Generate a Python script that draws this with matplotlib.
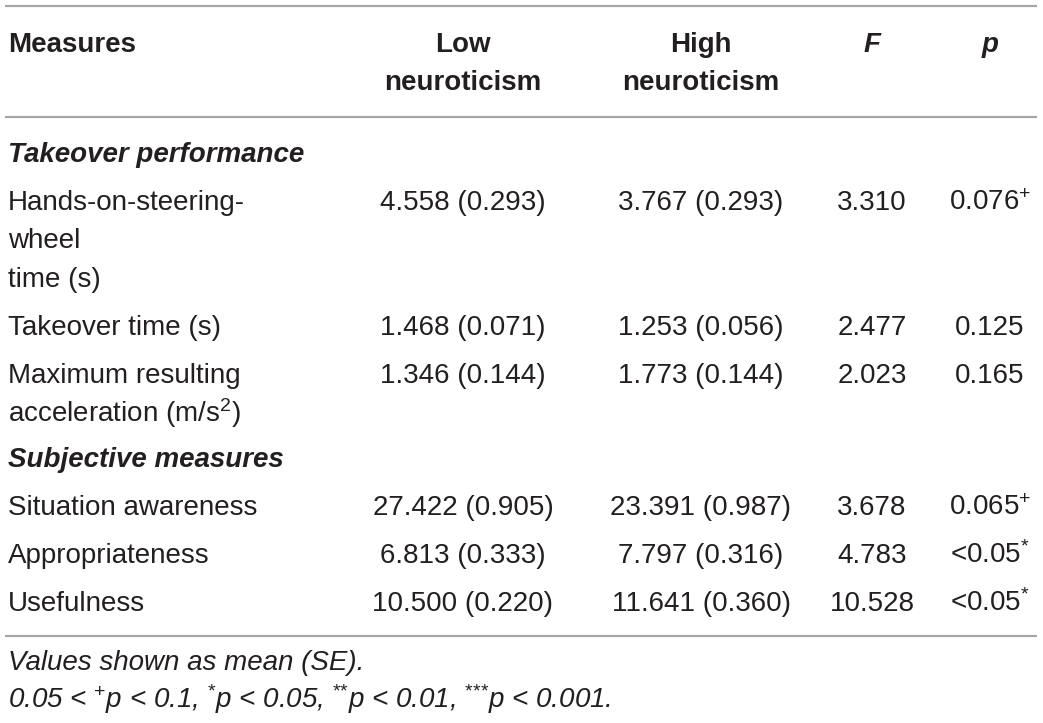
import matplotlib
matplotlib.use("Agg")
import matplotlib.pyplot as plt

plt.rcParams['font.family'] = ['Liberation Sans', 'DejaVu Sans']
plt.rcParams['mathtext.fontset'] = 'custom'
plt.rcParams['mathtext.rm'] = 'Liberation Sans'
plt.rcParams['mathtext.it'] = 'Liberation Sans:italic'
plt.rcParams['mathtext.bf'] = 'Liberation Sans:bold'

# table data
headers = ["Measures", "Low\nneuroticism", "High\nneuroticism", "F", "p"]
sections = ["Takeover performance", "Subjective measures"]
measures = [
    ["Hands-on-steering-", "wheel", "time (s)"],
    ["Takeover time (s)"],
    ["Maximum resulting", "acceleration (m/s$^{2}$)"],
    ["Situation awareness"],
    ["Appropriateness"],
    ["Usefulness"],
]
section_of = [0, 0, 0, 1, 1, 1]
low_mean = [4.558, 1.468, 1.346, 27.422, 6.813, 10.500]
low_se = [0.293, 0.071, 0.144, 0.905, 0.333, 0.220]
high_mean = [3.767, 1.253, 1.773, 23.391, 7.797, 11.641]
high_se = [0.293, 0.056, 0.144, 0.987, 0.316, 0.360]
f_vals = [3.310, 2.477, 2.023, 3.678, 4.783, 10.528]
p_labels = ["0.076$^{+}$", "0.125", "0.165", "0.065$^{+}$", "<0.05$^{{*}}$", "<0.05$^{{*}}$"]
notes = ["Values shown as mean (SE).",
         "0.05 < $^{{+}}$p < 0.1, $^{{*}}$p < 0.05, $^{{*}{*}}$p < 0.01, "
         "$^{{*}{*}{*}}$p < 0.001."]

W, H = 1043, 723
fig = plt.figure(figsize=(W / 100, H / 100), dpi=100)
ax = fig.add_axes([0, 0, 1, 1])
ax.set_xlim(0, W)
ax.set_ylim(H, 0)
ax.axis('off')

txt = '#231f20'
rule = '#a6a6a6'
fs = 20
col_x = [8, 463, 701, 872, 990]
off = 10  # baseline offset from visual centre

for y in [6, 117, 636]:
    ax.plot([5, 1037], [y, y], color=rule, lw=1.6, solid_capstyle='butt')

# header
ax.text(col_x[0], 42 + off, headers[0], fontsize=fs, fontweight='bold',
        color=txt, ha='left', va='baseline')
for i in [1, 2]:
    for k, part in enumerate(headers[i].split("\n")):
        ax.text(col_x[i], 42 + off + 38 * k, part, fontsize=fs, fontweight='bold',
                color=txt, ha='center', va='baseline')
for i in [3, 4]:
    ax.text(col_x[i], 42 + off, headers[i], fontsize=fs, fontweight='bold',
            fontstyle='italic', color=txt, ha='center', va='baseline')

# body
y = 152
cur_sec = -1
for r in range(len(measures)):
    if section_of[r] != cur_sec:
        if cur_sec != -1:
            y += 45.5
        cur_sec = section_of[r]
        ax.text(col_x[0], y + off, sections[cur_sec], fontsize=fs, fontweight='bold',
                fontstyle='italic', color=txt, ha='left', va='baseline')
    y += 48
    row_y = y
    for k, part in enumerate(measures[r]):
        ax.text(col_x[0], row_y + off + 38.5 * k, part, fontsize=fs, color=txt,
                ha='left', va='baseline')
    ax.text(col_x[1], row_y + off, "%.3f (%.3f)" % (low_mean[r], low_se[r]),
            fontsize=fs, color=txt, ha='center', va='baseline')
    ax.text(col_x[2], row_y + off, "%.3f (%.3f)" % (high_mean[r], high_se[r]),
            fontsize=fs, color=txt, ha='center', va='baseline')
    ax.text(col_x[3], row_y + off, "%.3f" % f_vals[r],
            fontsize=fs, color=txt, ha='center', va='baseline')
    ax.text(col_x[4], row_y + off, p_labels[r],
            fontsize=fs, color=txt, ha='center', va='baseline')
    y += 38.5 * (len(measures[r]) - 1)

for k, note in enumerate(notes):
    ax.text(col_x[0], 660 + off + 38 * k, note, fontsize=fs, fontstyle='italic',
            color=txt, ha='left', va='baseline')

fig.savefig("out.png", dpi=100)
